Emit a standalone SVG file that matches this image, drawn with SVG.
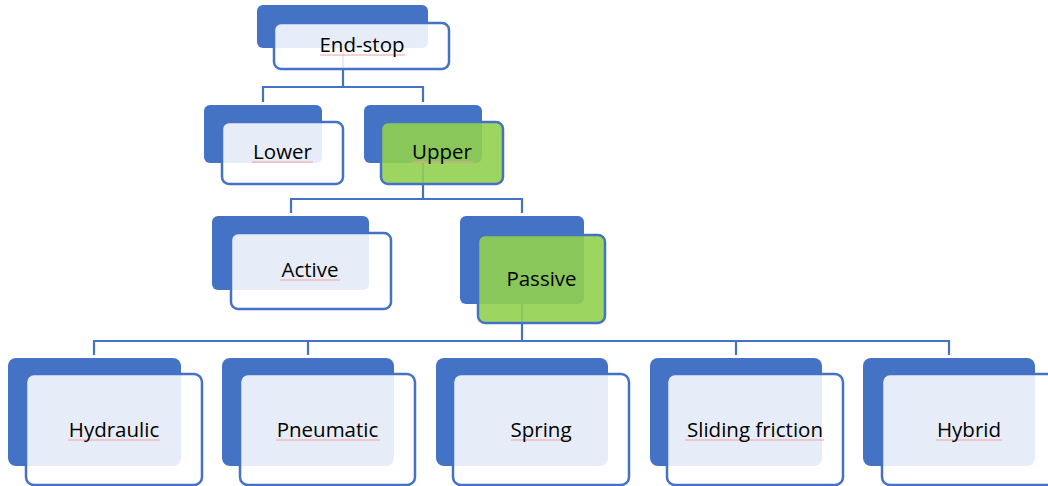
<svg xmlns="http://www.w3.org/2000/svg" width="1048" height="486" viewBox="0 0 1048 486">
  <style>
    .back { fill: #4472C4; }
    .front { fill: #FFFFFF; fill-opacity: 0.87; stroke: #4472C4; stroke-width: 2.5; }
    .front.hl { fill: #92D050; fill-opacity: 0.9; }
    .conn { fill: none; stroke: #4472C4; stroke-width: 2.2; }
    .lbl { font-family: "Open Sans", "Liberation Sans", sans-serif; font-size: 20.5px; fill: #000000; text-anchor: middle; }
    .spell { stroke: #F2A0A0; stroke-width: 1; }
  </style>
  <rect width="1048" height="486" fill="#FFFFFF"/>

  <!-- tree connectors -->
  <g id="connectors">
    <path class="conn" d="M343 48 V87 M263 102 V87 H423 V102"/>
    <path class="conn" d="M423 163 V199 M291 213 V199 H522 V213"/>
    <path class="conn" d="M522 304 V341 M94 355 V341 H949 V355 M308 341 V355 M736 341 V355"/>
  </g>

  <g id="node-endstop">
    <rect class="back" x="257" y="5" width="171" height="43" rx="6"/>
    <rect class="front" x="274" y="23" width="175" height="46" rx="7"/>
    <line class="spell" x1="320" y1="55" x2="405" y2="55"/>
    <text class="lbl" x="362" y="52">End-stop</text>
  </g>

  <g id="node-lower">
    <rect class="back" x="204" y="105" width="118" height="58" rx="6"/>
    <rect class="front" x="222" y="122" width="121" height="62" rx="7"/>
    <line class="spell" x1="252" y1="162" x2="313" y2="162"/>
    <text class="lbl" x="282.5" y="159">Lower</text>
  </g>

  <g id="node-upper">
    <rect class="back" x="364" y="105" width="118" height="58" rx="6"/>
    <rect class="front hl" x="381" y="122" width="122" height="62" rx="7"/>
    <line class="spell" x1="412" y1="162" x2="473" y2="162"/>
    <text class="lbl" x="442" y="159">Upper</text>
  </g>

  <g id="node-active">
    <rect class="back" x="212" y="216" width="157" height="74" rx="6"/>
    <rect class="front" x="231" y="233" width="160" height="76" rx="7"/>
    <line class="spell" x1="280" y1="280" x2="340" y2="280"/>
    <text class="lbl" x="310" y="277">Active</text>
  </g>

  <g id="node-passive">
    <rect class="back" x="460" y="216" width="124" height="88" rx="6"/>
    <rect class="front hl" x="478" y="235" width="127" height="88" rx="7"/>
    <text class="lbl" x="541.5" y="286">Passive</text>
  </g>

  <g id="node-hydraulic">
    <rect class="back" x="8" y="358" width="173" height="108" rx="8"/>
    <rect class="front" x="26" y="374" width="176" height="111" rx="8"/>
    <line class="spell" x1="68" y1="440" x2="160" y2="440"/>
    <text class="lbl" x="114" y="437">Hydraulic</text>
  </g>

  <g id="node-pneumatic">
    <rect class="back" x="222" y="358" width="172" height="108" rx="8"/>
    <rect class="front" x="240" y="374" width="175" height="111" rx="8"/>
    <line class="spell" x1="276" y1="440" x2="380" y2="440"/>
    <text class="lbl" x="327.5" y="437">Pneumatic</text>
  </g>

  <g id="node-spring">
    <rect class="back" x="436" y="358" width="172" height="108" rx="8"/>
    <rect class="front" x="453" y="374" width="176" height="111" rx="8"/>
    <line class="spell" x1="511" y1="440" x2="572" y2="440"/>
    <text class="lbl" x="541" y="437">Spring</text>
  </g>

  <g id="node-sliding-friction">
    <rect class="back" x="650" y="358" width="172" height="108" rx="8"/>
    <rect class="front" x="667" y="374" width="176" height="111" rx="8"/>
    <line class="spell" x1="685" y1="440" x2="824" y2="440"/>
    <text class="lbl" x="755" y="437">Sliding friction</text>
  </g>

  <g id="node-hybrid">
    <rect class="back" x="863" y="358" width="172" height="108" rx="8"/>
    <rect class="front" x="882" y="374" width="176" height="111" rx="8"/>
    <line class="spell" x1="936" y1="440" x2="1002" y2="440"/>
    <text class="lbl" x="969" y="437">Hybrid</text>
  </g>
</svg>
